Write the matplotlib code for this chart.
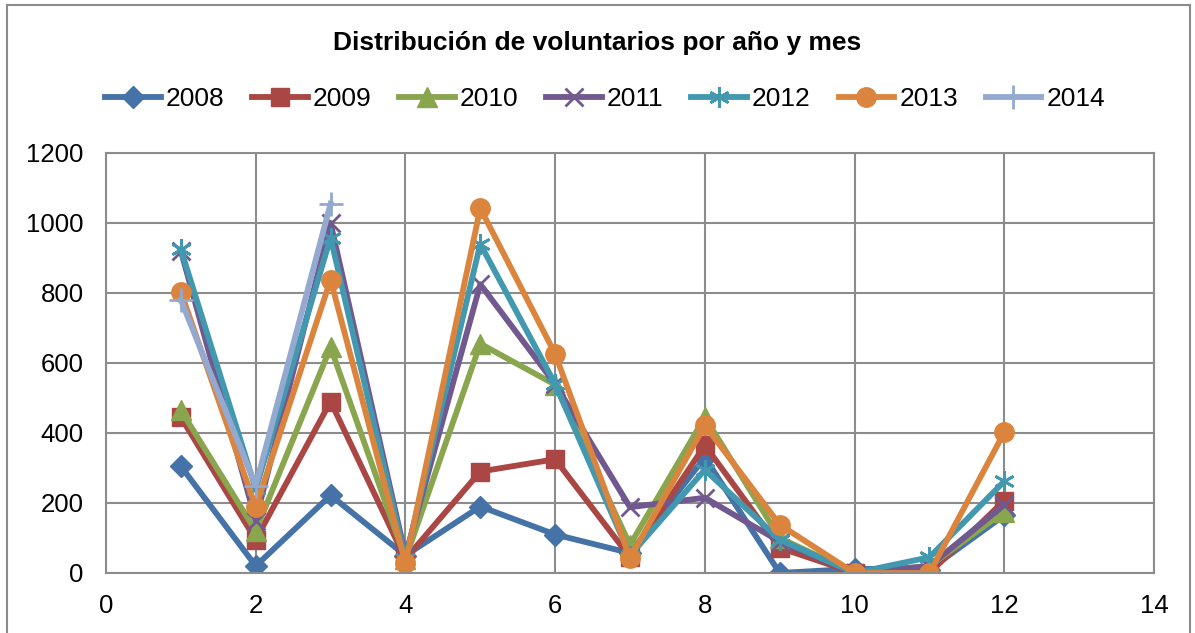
import matplotlib.pyplot as plt
from matplotlib.patches import Rectangle

plt.rcParams['font.family'] = ['Liberation Sans', 'DejaVu Sans']

months = list(range(1, 13))
years = ["2008", "2009", "2010", "2011", "2012", "2013", "2014"]

v2008 = [305, 20, 222, 50, 190, 110, 57, 330, 0, 12, 10, 165]
v2009 = [445, 95, 490, 40, 290, 325, 45, 365, 72, 0, 0, 207]
v2010 = [465, 120, 645, 40, 655, 538, 80, 445, 100, 0, 20, 175]
v2011 = [920, 150, 1000, 50, 825, 540, 188, 215, 90, 0, 20, 195]
v2012 = [925, 240, 958, 40, 940, 540, 50, 295, 95, 0, 45, 262]
v2013 = [803, 188, 838, 28, 1042, 626, 43, 422, 138, 0, 0, 402]
v2014 = [780, 250, 1055]

series = [v2008, v2009, v2010, v2011, v2012, v2013, v2014]
colors = ["#4572A7", "#AA4643", "#89A54E", "#71588F", "#4198AF", "#DB843D", "#93A9CF"]
markers = ["D", "s", "^", "x", (6, 2, 0), "o", "+"]
msizes = [11, 13, 15, 13, 15, 14, 17]

fig = plt.figure(figsize=(11.95, 6.33), dpi=100)
ax = fig.add_axes([106 / 1195, 1 - 573 / 633, (1154 - 106) / 1195, (573 - 153) / 633])

for name, vals, col, mk, ms in zip(years, series, colors, markers, msizes):
    xs = months[:len(vals)]
    if mk in ("x", "+") or isinstance(mk, tuple):
        ax.plot(xs, vals, color=col, lw=4.2, marker=mk, ms=ms, mew=2, label=name)
    else:
        ax.plot(xs, vals, color=col, lw=4.2, marker=mk, ms=ms, mec=col, label=name)

ax.set_xlim(0, 14)
ax.set_ylim(0, 1200)
ax.set_xticks(range(0, 15, 2))
ax.set_yticks(range(0, 1201, 200))
ax.grid(True, color="#8c8c8c", lw=1.5)
ax.set_axisbelow(True)
for s in ax.spines.values():
    s.set_color("#8c8c8c")
    s.set_linewidth(1.5)
ax.tick_params(labelsize=18.5, length=0)
ax.tick_params(axis="y", pad=16)
ax.tick_params(axis="x", pad=15)

fig.text(0.5, 1 - 43 / 633, "Distribución de voluntarios por año y mes",
         ha="center", va="center", fontsize=19, fontweight="bold")
fig.legend(loc="center", bbox_to_anchor=(605 / 1195, 1 - 99 / 633), ncol=7, frameon=False,
           fontsize=19, handlelength=2.1, columnspacing=1.05, handletextpad=0.2)

fig.patches.append(Rectangle((7 / 1195, -0.05), 1183 / 1195, 1.05 - 5 / 633,
                             transform=fig.transFigure, fill=False,
                             edgecolor="#8c8c8c", lw=1.5))

fig.savefig("out.png", dpi=100)
